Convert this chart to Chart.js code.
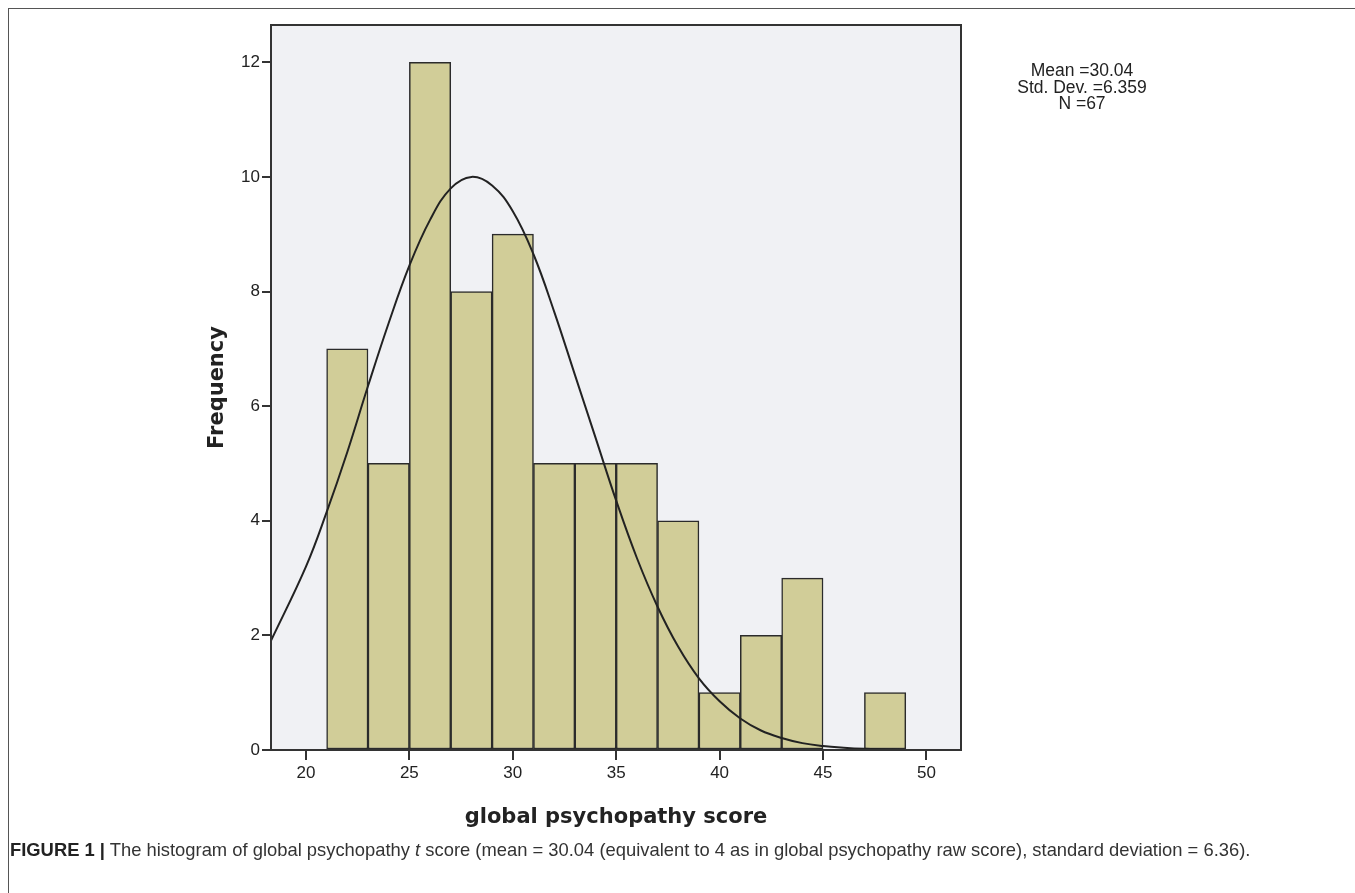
<!DOCTYPE html>
<html>
<head>
<meta charset="utf-8">
<script src="https://cdn.jsdelivr.net/npm/chart.js@4/dist/chart.umd.min.js"></script>
<style>
  body { margin: 0; background: #fff; }
  #wrap { position: relative; width: 1355px; height: 893px; overflow: hidden; }
  #frame { position: absolute; left: 8px; top: 8px; right: -2px; bottom: -2px;
           border-top: 1.5px solid #555; border-left: 1.5px solid #555; }
  #myChart { position: absolute; left: 0; top: 0; }
  #stats { position: absolute; left: 982px; top: 62px; width: 200px; text-align: center;
           font: 17.5px "Liberation Sans", Arial, sans-serif; line-height: 16.5px; color: #222; }
  #caption { position: absolute; left: 10px; top: 839px; white-space: nowrap;
             font: 18.5px "Liberation Sans Narrow", "Liberation Sans", sans-serif; color: #333;
             transform-origin: left center; transform: scaleX(0.993); }
  #caption b { color: #222; }
</style>
</head>
<body>
<div id="wrap">
  <div id="frame"></div>
  <canvas id="myChart" width="1355" height="893"></canvas>
  <div id="stats">Mean =30.04<br>Std. Dev. =6.359<br>N =67</div>
  <div id="caption"><b>FIGURE 1 |</b> The histogram of global psychopathy <i>t</i> score (mean = 30.04 (equivalent to 4 as in global psychopathy raw score), standard deviation = 6.36).</div>
</div>
<script>
// histogram bins (centres, width 2) and counts
var binCentres = [22, 24, 26, 28, 30, 32, 34, 36, 38, 40, 42, 44, 46, 48];
var binCounts  = [7, 5, 12, 8, 9, 5, 5, 5, 4, 1, 2, 3, 0, 1];

// normal curve as drawn in the picture (x, height)
var curveX = [18.3, 20, 21, 22, 23, 24, 25, 26, 27, 28, 29, 30, 31, 32, 33, 34, 35, 36, 37, 38, 39, 40, 41, 42, 43, 44, 45, 46, 47, 48, 49, 50, 51.6];
var curveY = [1.9, 3.2, 4.15, 5.2, 6.35, 7.45, 8.45, 9.25, 9.8, 10.0, 9.85, 9.4, 8.65, 7.65, 6.55, 5.45, 4.35, 3.35, 2.5, 1.8, 1.25, 0.85, 0.55, 0.34, 0.21, 0.12, 0.07, 0.04, 0.02, 0.01, 0.0, 0.0, 0.0];

var xTicks = [20, 25, 30, 35, 40, 45, 50];
var yTicks = [0, 2, 4, 6, 8, 10, 12];

var axisColor = '#333';

var plotBox = {
  id: 'plotBox',
  beforeDatasetsDraw: function(chart) {
    var a = chart.chartArea, c = chart.ctx;
    c.save();
    c.fillStyle = '#f0f1f4';
    c.fillRect(a.left, a.top, a.right - a.left, a.bottom - a.top);
    c.restore();
  },
  afterDraw: function(chart) {
    var a = chart.chartArea, c = chart.ctx;
    c.save();
    c.strokeStyle = axisColor;
    c.lineWidth = 2;
    c.strokeRect(a.left, a.top, a.right - a.left, a.bottom - a.top);
    c.restore();
  }
};

var hist = binCentres.map(function(x, i) { return { x: x, y: binCounts[i] }; });
var curve = curveX.map(function(x, i) { return { x: x, y: curveY[i] }; });

var ctx = document.getElementById('myChart').getContext('2d');
var myChart = new Chart(ctx, {
  type: 'bar',
  data: {
    datasets: [
      {
        type: 'line',
        data: curve,
        borderColor: '#222',
        borderWidth: 2,
        pointRadius: 0,
        tension: 0.4,
        fill: false,
        order: 0
      },
      {
        type: 'bar',
        data: hist,
        backgroundColor: '#d1cd98',
        borderColor: '#2b2b2b',
        borderWidth: 1.5,
        borderSkipped: false,
        barPercentage: 1,
        categoryPercentage: 1,
        order: 1
      }
    ]
  },
  plugins: [plotBox],
  options: {
    responsive: false,
    animation: false,
    layout: { padding: { left: 205, top: 25, right: 394, bottom: 63 } },
    plugins: { legend: { display: false }, tooltip: { enabled: false } },
    scales: {
      x: {
        type: 'linear',
        offset: false,
        min: 18.31,
        max: 51.67,
        afterBuildTicks: function(s) { s.ticks = xTicks.map(function(v) { return { value: v }; }); },
        afterFit: function(s) { s.height = 80; },
        grid: { offset: false, drawOnChartArea: false, drawTicks: true, tickLength: 10, color: axisColor, lineWidth: 2 },
        border: { display: true, color: axisColor, width: 2 },
        ticks: { color: '#222', font: { family: 'Liberation Sans', size: 17 }, padding: 3, maxRotation: 0 },
        title: { display: true, text: 'global psychopathy score', color: '#222',
                 font: { family: 'DejaVu Sans', size: 21, weight: 'bold' }, padding: { top: 0, bottom: 0 } }
      },
      y: {
        min: 0,
        max: 12.65,
        afterBuildTicks: function(s) { s.ticks = yTicks.map(function(v) { return { value: v }; }); },
        afterFit: function(s) { s.width = 66; },
        grid: { drawOnChartArea: false, drawTicks: true, tickLength: 9, color: axisColor, lineWidth: 2 },
        border: { display: true, color: axisColor, width: 2 },
        ticks: { color: '#222', font: { family: 'Liberation Sans', size: 17 }, padding: 2 },
        title: { display: true, text: 'Frequency', color: '#222',
                 font: { family: 'DejaVu Sans', size: 21, weight: 'bold' }, padding: { top: 0, bottom: 0 } }
      }
    }
  }
});
</script>
</body>
</html>
